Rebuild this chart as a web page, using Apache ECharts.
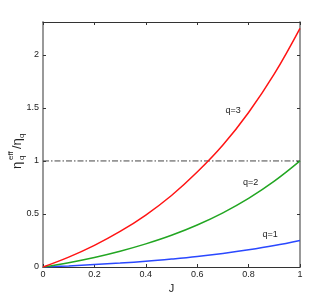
<!DOCTYPE html>
<html>
<head>
<meta charset="utf-8">
<script src="https://cdn.jsdelivr.net/npm/echarts@6/dist/echarts.min.js"></script>
<style>html,body{margin:0;padding:0;background:#fff}#c{width:331px;height:301px}</style>
</head>
<body>
<div id="c"></div>
<script>
// Data
var J = [0, 0.1, 0.2, 0.3, 0.4, 0.5, 0.6, 0.7, 0.8, 0.9, 1.0];
var q1 = [0, 0.010, 0.023, 0.037, 0.054, 0.075, 0.099, 0.128, 0.162, 0.202, 0.25];
var q2 = [0, 0.041, 0.090, 0.149, 0.218, 0.299, 0.396, 0.511, 0.647, 0.809, 1.00];
var q3 = [0, 0.093, 0.204, 0.335, 0.490, 0.674, 0.895, 1.150, 1.457, 1.820, 2.25];
var refLevel = 1;
var seriesNames = ['q=1', 'q=2', 'q=3'];
var labelJ = [0.884, 0.808, 0.74];
var labelY = [0.31, 0.795, 1.48];
var xTicks = [0, 0.2, 0.4, 0.6, 0.8, 1];
var yTicks = [0, 0.5, 1, 1.5, 2];

function pairs(ys) { return J.map(function (x, i) { return [x, ys[i]]; }); }

var chart = echarts.init(document.getElementById('c'), null, {renderer: 'canvas'});
var font = 'Liberation Sans, Arial, sans-serif';
function fmtX(v) { return (Math.abs(v) < 1e-9) ? '0' : (Math.abs(v - 1) < 1e-9 ? '1' : (+v.toFixed(1)).toString()); }
function fmtY(v) {
  for (var i = 0; i < yTicks.length; i++) if (Math.abs(v - yTicks[i]) < 1e-9) return String(yTicks[i]);
  return '';
}
var axisCommon = {
  type: 'value', splitLine: {show: false},
  axisTick: {inside: true, length: 3, lineStyle: {color: '#333', width: 1}}
};
chart.setOption({
  animation: false,
  grid: {left: 43, top: 22, right: 31, bottom: 34},
  xAxis: [
    Object.assign({}, axisCommon, {
      min: 0, max: 1, interval: 0.2, position: 'bottom',
      axisLine: {onZero: false, lineStyle: {color: '#333', width: 1}},
      axisLabel: {formatter: fmtX, fontSize: 9, color: '#222', margin: 3, fontFamily: font},
      name: 'J', nameLocation: 'middle', nameGap: 11,
      nameTextStyle: {fontSize: 11, color: '#222', fontFamily: font}
    }),
    Object.assign({}, axisCommon, {
      min: 0, max: 1, interval: 0.2, position: 'top',
      axisLine: {onZero: false, lineStyle: {color: '#333', width: 1}},
      axisLabel: {show: false}
    })
  ],
  yAxis: [
    Object.assign({}, axisCommon, {
      min: 0, max: 2.31, interval: 0.5, position: 'left',
      axisLine: {onZero: false, lineStyle: {color: '#999', width: 2}},
      axisLabel: {formatter: fmtY, fontSize: 9, color: '#222', margin: 4, fontFamily: font, showMaxLabel: false}
    }),
    Object.assign({}, axisCommon, {
      min: 0, max: 2.31, interval: 0.5, position: 'right',
      axisLine: {onZero: false, lineStyle: {color: '#999', width: 2}},
      axisLabel: {show: false}
    })
  ],
  series: [
    {name: seriesNames[0], type: 'line', data: pairs(q1), smooth: 0.4, showSymbol: false,
     lineStyle: {color: '#2a48ff', width: 1.5}, z: 3},
    {name: seriesNames[1], type: 'line', data: pairs(q2), smooth: 0.4, showSymbol: false,
     lineStyle: {color: '#22a622', width: 1.5}, z: 3},
    {name: seriesNames[2], type: 'line', data: pairs(q3), smooth: 0.4, showSymbol: false,
     lineStyle: {color: '#ff1414', width: 1.5}, z: 3},
    {name: 'ref', type: 'line', data: [[0, refLevel], [1, refLevel]], showSymbol: false,
     lineStyle: {color: '#444', width: 1, type: [6, 2, 1.5, 2]}, z: 2}
  ]
});

var g = [];
for (var i = 0; i < seriesNames.length; i++) {
  var p = chart.convertToPixel({xAxisIndex: 0, yAxisIndex: 0}, [labelJ[i], labelY[i]]);
  g.push({type: 'text', x: p[0], y: p[1],
    style: {text: seriesNames[i], fill: '#222', font: '9px ' + font, align: 'center', verticalAlign: 'middle'}});
}
// Rotated y-axis title: eta_q^eff / eta_q
g.push({
  type: 'group', x: 17, y: 169, rotation: Math.PI / 2,
  children: [
    {type: 'text', x: 0, y: 0, style: {text: 'η', font: '13px ' + font, fill: '#222', align: 'left', verticalAlign: 'middle'}},
    {type: 'text', x: 9, y: -6, style: {text: 'eff', font: '8px ' + font, fill: '#222', align: 'left', verticalAlign: 'middle'}},
    {type: 'text', x: 9, y: 5, style: {text: 'q', font: '8px ' + font, fill: '#222', align: 'left', verticalAlign: 'middle'}},
    {type: 'text', x: 20, y: 0, style: {text: '/η', font: '13px ' + font, fill: '#222', align: 'left', verticalAlign: 'middle'}},
    {type: 'text', x: 31, y: 5, style: {text: 'q', font: '8px ' + font, fill: '#222', align: 'left', verticalAlign: 'middle'}}
  ]
});
chart.setOption({graphic: g});
</script>
</body>
</html>
